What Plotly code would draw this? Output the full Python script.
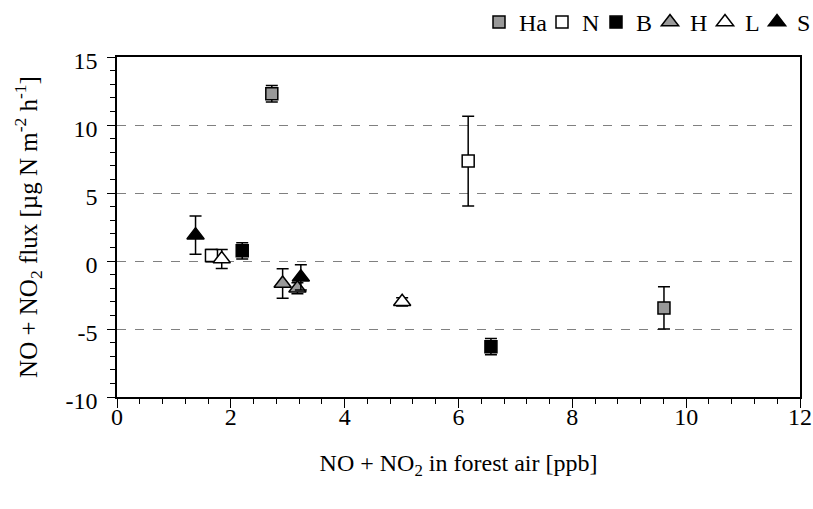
import plotly.graph_objects as go

# Site series: forest-air NO+NO2 concentration, flux and its error
sites = ["Ha", "N", "B", "H", "L", "S"]
conc = {
    "Ha": [2.72, 9.61],
    "N": [1.66, 6.17],
    "B": [2.20, 6.57],
    "H": [2.91, 3.17],
    "L": [1.84, 5.01],
    "S": [1.38, 3.23],
}
flux = {
    "Ha": [12.3, -3.45],
    "N": [0.4, 7.35],
    "B": [0.75, -6.3],
    "H": [-1.65, -2.0],
    "L": [0.15, -3.0],
    "S": [1.9, -1.2],
}
flux_err = {
    "Ha": [0.6, 1.55],
    "N": [0.45, 3.3],
    "B": [0.6, 0.6],
    "H": [1.08, 0.4],
    "L": [0.7, 0.3],
    "S": [1.4, 0.93],
}

x_ticks = [0, 2, 4, 6, 8, 10, 12]
y_ticks = [-10, -5, 0, 5, 10, 15]
y_tick_labels = ["-10", "-5", "0", "5", "10", "15"]

GREY = "#999999"
style = {
    "Ha": ("square", GREY, 12),
    "N": ("square", "white", 12),
    "B": ("square", "black", 12),
    "H": ("triangle-up", GREY, 15),
    "L": ("triangle-up", "white", 15),
    "S": ("triangle-up", "black", 15),
}

FONT = "Liberation Serif"
FS = 24
tick_font = dict(family=FONT, size=FS, color="black")

W, H = 813, 509
# left edge (px) of each key entry in the legend row along the top
key_left_px = [479, 542, 596, 650, 705, 757]

fig = go.Figure()
legend_layout = {}
for i, s in enumerate(sites):
    sym, fill, size = style[s]
    lname = "legend" if i == 0 else f"legend{i + 1}"
    fig.add_trace(go.Scatter(
        x=conc[s], y=flux[s], name=s, mode="markers", legend=lname,
        marker=dict(symbol=sym, color=fill, size=size,
                    line=dict(color="black", width=1.5)),
        error_y=dict(type="data", array=flux_err[s], visible=True,
                     color="black", thickness=1.5, width=6),
    ))
    legend_layout[lname] = dict(
        orientation="h", xref="container", yref="container",
        x=key_left_px[i] / W, xanchor="left", y=1.0, yanchor="top",
        font=dict(family=FONT, size=FS), itemwidth=30,
        bgcolor="rgba(0,0,0,0)", borderwidth=0,
    )

fig.update_layout(
    width=W, height=H,
    margin=dict(l=117, r=13, t=57, b=112, autoexpand=False),
    paper_bgcolor="white", plot_bgcolor="white",
    font=dict(family=FONT, size=FS, color="black"),
    showlegend=True,
    xaxis=dict(
        range=[0, 12], tickvals=x_ticks, ticktext=[str(v) for v in x_ticks],
        tickfont=tick_font, ticklabelstandoff=-12,
        showline=True, linecolor="black", linewidth=1.5, mirror=True,
        ticks="outside", ticklen=9, tickwidth=1, tickcolor="black",
        minor=dict(dtick=0.4, tick0=0, ticks="outside", ticklen=5,
                   tickcolor="black", showgrid=False),
        showgrid=False, zeroline=False,
        title=dict(text="NO + NO<sub>2</sub> in forest air [ppb]",
                   font=dict(family=FONT, size=FS), standoff=26),
    ),
    yaxis=dict(
        range=[-10, 15], tickvals=y_ticks, ticktext=y_tick_labels,
        tickfont=tick_font, ticklabelstandoff=5, ticklabelshift=4,
        showline=True, linecolor="black", linewidth=1.5, mirror=True,
        ticks="outside", ticklen=8, tickwidth=1, tickcolor="black",
        minor=dict(dtick=1, tick0=0, ticks="outside", ticklen=5,
                   tickcolor="black", showgrid=False),
        showgrid=True, gridcolor="#808080", gridwidth=1, griddash="dash",
        zeroline=False,
        title=dict(text="NO + NO<sub>2</sub> flux [µg N m<sup>-2</sup> h<sup>-1</sup>]",
                   font=dict(family=FONT, size=25), standoff=21),
    ),
    **legend_layout,
)

fig.write_html("out.html")
